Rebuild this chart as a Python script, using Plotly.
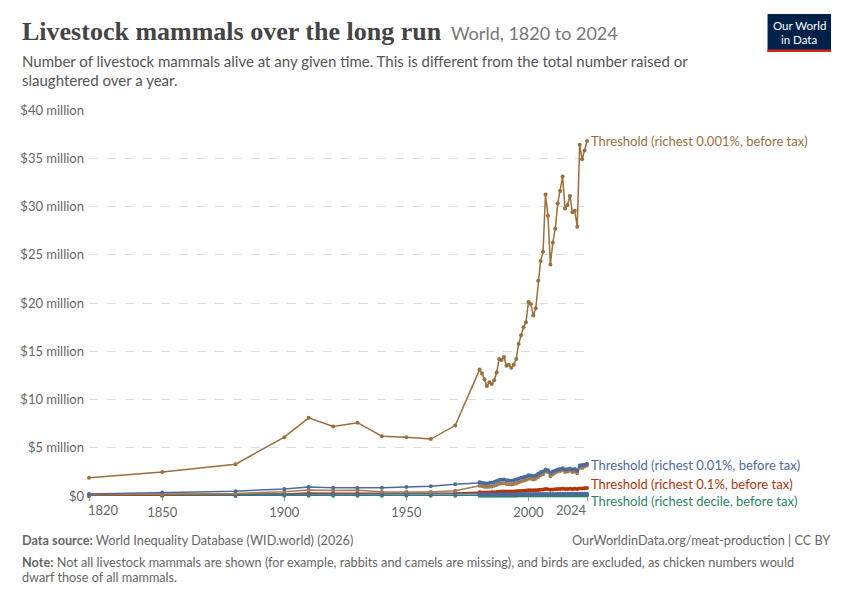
import plotly.graph_objects as go

# Anos: decadas ate 1970, depois anuais 1980-2024
anos = [1820, 1850, 1880, 1900, 1910, 1920, 1930, 1940, 1950, 1960, 1970] + list(range(1980, 2025))

# Valores em milhoes de dolares
top_0001 = [1.9, 2.5, 3.3, 6.1, 8.1, 7.2, 7.6, 6.2, 6.1, 5.9, 7.3,
            13.1, 12.7, 12.1, 11.4, 11.8, 11.6, 12.0, 12.8, 14.2, 14.1,
            14.4, 13.5, 13.6, 13.3, 13.6, 14.2, 15.75, 16.65, 17.5, 18.0,
            20.1, 19.9, 18.7, 19.45, 22.3, 24.35, 25.3, 31.25, 29.05, 24.0,
            26.25, 27.7, 30.3, 31.6, 33.1, 29.8, 30.15, 31.1, 29.4, 29.55,
            27.9, 36.4, 34.9, 35.8, 36.8]

top_001 = [0.22, 0.35, 0.5, 0.72, 0.92, 0.86, 0.84, 0.86, 0.92, 1.02, 1.22,
           1.42, 1.38, 1.33, 1.30, 1.35, 1.37, 1.45, 1.55, 1.65, 1.68,
           1.72, 1.62, 1.60, 1.58, 1.62, 1.70, 1.80, 1.88, 1.95, 2.02,
           2.15, 2.12, 2.05, 2.12, 2.30, 2.45, 2.55, 2.75, 2.68, 2.40,
           2.55, 2.65, 2.75, 2.80, 2.88, 2.75, 2.78, 2.85, 2.75, 2.80,
           2.65, 3.15, 3.20, 3.25, 3.35]

# linha marrom secundaria (sem rotulo)
top_001_b = [0.12, 0.15, 0.25, 0.45, 0.62, 0.58, 0.60, 0.45, 0.45, 0.42, 0.55,
             1.05, 1.00, 0.95, 0.92, 0.96, 0.98, 1.05, 1.15, 1.28, 1.30,
             1.33, 1.25, 1.22, 1.20, 1.24, 1.30, 1.42, 1.50, 1.58, 1.65,
             1.80, 1.78, 1.70, 1.78, 1.98, 2.15, 2.25, 2.55, 2.45, 2.05,
             2.25, 2.40, 2.55, 2.60, 2.70, 2.50, 2.55, 2.65, 2.50, 2.55,
             2.35, 2.95, 2.90, 3.05, 3.15]

top_01 = [0.05, 0.08, 0.15, 0.22, 0.30, 0.28, 0.28, 0.25, 0.25, 0.25, 0.30,
          0.38, 0.37, 0.36, 0.36, 0.37, 0.38, 0.40, 0.42, 0.45, 0.46,
          0.47, 0.46, 0.46, 0.46, 0.47, 0.49, 0.51, 0.53, 0.55, 0.57,
          0.60, 0.60, 0.59, 0.60, 0.63, 0.66, 0.68, 0.72, 0.71, 0.66,
          0.68, 0.70, 0.72, 0.73, 0.74, 0.72, 0.73, 0.74, 0.73, 0.74,
          0.72, 0.78, 0.79, 0.80, 0.82]

decil = [0.01, 0.01, 0.01, 0.02, 0.02, 0.02, 0.02, 0.02, 0.02, 0.02, 0.03,
         0.03, 0.03, 0.03, 0.03, 0.03, 0.03, 0.03, 0.03, 0.03, 0.03,
         0.03, 0.03, 0.03, 0.03, 0.03, 0.03, 0.04, 0.04, 0.04, 0.04,
         0.04, 0.04, 0.04, 0.04, 0.04, 0.05, 0.05, 0.05, 0.05, 0.05,
         0.05, 0.05, 0.05, 0.05, 0.05, 0.05, 0.05, 0.05, 0.05, 0.05,
         0.05, 0.06, 0.06, 0.06, 0.06]

# linha azul baixa (sem rotulo)
azul_baixo = [0.15, 0.16, 0.16, 0.17, 0.18, 0.18, 0.18, 0.17, 0.17, 0.17, 0.18,
              0.18, 0.18, 0.18, 0.18, 0.18, 0.18, 0.18, 0.18, 0.19, 0.19,
              0.19, 0.19, 0.19, 0.19, 0.19, 0.19, 0.20, 0.20, 0.20, 0.20,
              0.21, 0.21, 0.21, 0.21, 0.21, 0.22, 0.22, 0.22, 0.22, 0.22,
              0.22, 0.22, 0.23, 0.23, 0.23, 0.23, 0.23, 0.23, 0.23, 0.23,
              0.23, 0.24, 0.24, 0.24, 0.24]

x_ticks = [1820, 1850, 1900, 1950, 2000, 2024]
x_text = ['', '1850', '1900', '1950', '2000', '']
y_ticks = [0, 5, 10, 15, 20, 25, 30, 35, 40]
y_text = ['$0'] + [f'${v} million' for v in y_ticks[1:]]

marrom = '#9c6e3c'
azul = '#4c6a9c'
vermelho = '#b13507'
verde = '#2c8465'

# a pagina tem margem de 8px no body: figura menor e tudo deslocado
OFF = 8
W, H = 850 - OFF, 600 - OFF
PX0, PX1, PY0, PY1 = 85 - OFF, 587 - OFF, 110 - OFF, 496 - OFF


def pg(x, y):
    # coordenadas da pagina de referencia -> paper
    x, y = x - OFF, y - OFF
    return (x - PX0) / (PX1 - PX0), (PY1 - y) / (PY1 - PY0)


series = [
    (decil, verde),
    (top_01, vermelho),
    (azul_baixo, azul),
    (top_001_b, '#a67c4e'),
    (top_001, azul),
    (top_0001, marrom),
]

fig = go.Figure()
for vals, cor in series:
    fig.add_trace(go.Scatter(x=anos, y=[v * 1e6 for v in vals], mode='lines+markers',
                             line=dict(color=cor, width=1.5), marker=dict(color=cor, size=4),
                             cliponaxis=False, showlegend=False))

rotulos = [
    ('Threshold (richest 0.001%, before tax)', top_0001[-1], marrom, 0),
    ('Threshold (richest 0.01%, before tax)', top_001[-1], azul, -1),
    ('Threshold (richest 0.1%, before tax)', top_01[-1], vermelho, 4),
    ('Threshold (richest decile, before tax)', decil[-1], verde, -6),
]
for txt, yv, cor, ys in rotulos:
    fig.add_annotation(x=2024, y=yv * 1e6, xref='x', yref='y', text=txt, showarrow=False,
                       xanchor='left', xshift=2, yshift=ys, font=dict(color=cor, size=13, family='Lato'))

fig.update_xaxes(range=[1820, 2024], tickvals=x_ticks, ticktext=x_text, showgrid=False, zeroline=False,
                 ticks='outside', ticklen=4, tickcolor='#999', showline=False,
                 tickfont=dict(size=13, color='#666', family='Lato'))
fig.update_yaxes(range=[0, 40e6], tickvals=[v * 1e6 for v in y_ticks], ticktext=y_text,
                 showgrid=True, gridcolor='#ddd', griddash='dash', zeroline=False,
                 tickfont=dict(size=13, color='#666', family='Lato'), ticklabelstandoff=4)

textos = [
    (15, 32, '<b>Livestock mammals over the long run</b>', 'Liberation Serif', 26, '#444', 'left'),
    (448, 33, 'World, 1820 to 2024', 'Lato', 18, '#777', 'left'),
    (15, 61, 'Number of livestock mammals alive at any given time. This is different from the total number raised or', 'Lato', 15, '#555', 'left'),
    (15, 80, 'slaughtered over a year.', 'Lato', 15, '#555', 'left'),
    (15, 540, '<b>Data source:</b> World Inequality Database (WID.world) (2026)', 'Lato', 12.7, '#666', 'left'),
    (834, 540, 'OurWorldinData.org/meat-production | CC BY', 'Lato', 12.7, '#666', 'right'),
    (15, 562, '<b>Note:</b> Not all livestock mammals are shown (for example, rabbits and camels are missing), and birds are excluded, as chicken numbers would', 'Lato', 12.7, '#666', 'left'),
    (15, 577, 'dwarf those of all mammals.', 'Lato', 12.7, '#666', 'left'),
    # rotulos de eixo x deslocados para dentro, como no original
    (100, 510, '1820', 'Lato', 13, '#666', 'center'),
    (571, 510, '2024', 'Lato', 13, '#666', 'center'),
]
for x, y, txt, fam, sz, cor, anc in textos:
    px, py = pg(x, y)
    fig.add_annotation(xref='paper', yref='paper', x=px, y=py, text=txt, showarrow=False,
                       xanchor=anc, yanchor='middle', font=dict(family=fam, size=sz, color=cor))

# logo
x0, y0 = pg(769, 52)
x1, y1 = pg(833, 14)
fig.add_shape(type='rect', xref='paper', yref='paper', x0=x0, x1=x1, y0=y0, y1=y1,
              fillcolor='#002147', line=dict(width=0))
_, yr = pg(0, 49.5)
fig.add_shape(type='rect', xref='paper', yref='paper', x0=x0, x1=x1, y0=y0, y1=yr,
              fillcolor='#ce261e', line=dict(width=0))
for ty, txt in [(25, 'Our World'), (39, 'in Data')]:
    tx, tyy = pg(801, ty)
    fig.add_annotation(xref='paper', yref='paper', x=tx, y=tyy, text=txt, showarrow=False,
                       xanchor='center', yanchor='middle',
                       font=dict(family='Lato', size=11.5, color='white'))

fig.update_layout(width=W, height=H, plot_bgcolor='white', paper_bgcolor='white',
                  margin=dict(l=PX0, r=W - PX1, t=PY0, b=H - PY1), showlegend=False)

fig.write_html('out.html')
